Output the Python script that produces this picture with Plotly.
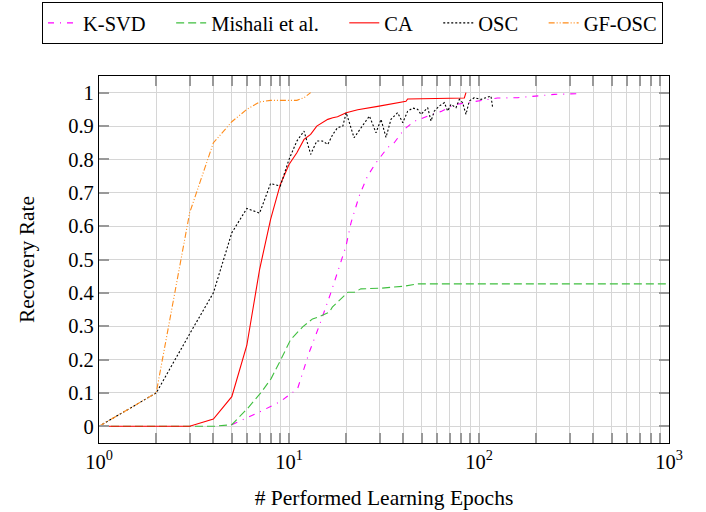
import plotly.graph_objects as go

# ---- data ----
ksvd_x = [5, 6.84, 9.04, 10, 11.1, 12.8, 14.4, 16.6, 18.4, 19.95, 21.2, 23.4, 25.9, 28.7, 33, 35.8,
          40.4, 45.6, 53.7, 63.2, 74.1, 102.5, 125, 160, 200, 250, 336]
ksvd_y = [0.005, 0.04, 0.075, 0.093, 0.113, 0.223, 0.30, 0.40, 0.48, 0.54, 0.61, 0.69, 0.75, 0.79, 0.835, 0.85,
          0.89, 0.914, 0.93, 0.944, 0.964, 0.975, 0.984, 0.985, 0.99, 0.995, 0.997]

mish_x = [1, 2, 3, 4, 5, 6.06, 7.1, 8.05, 9.06, 10.2, 11.8, 13.3, 14.2, 16.3, 16.9, 20.4, 22.1, 23.9,
          30.5, 40.4, 47.6, 100, 1000]
mish_y = [0, 0, 0, 0, 0.005, 0.054, 0.1, 0.143, 0.2, 0.26, 0.298, 0.322, 0.327, 0.342, 0.357, 0.402, 0.402, 0.412,
          0.414, 0.42, 0.427, 0.427, 0.427]

ca_x = [1, 2, 3, 4, 5, 6, 7, 8, 9, 10, 11, 12, 13, 14, 15, 16, 17, 18, 20, 23, 29.3, 36.6, 41.3, 42.1, 83.7, 85.4]
ca_y = [0, 0, 0, 0.022, 0.089, 0.243, 0.47, 0.62, 0.725, 0.785, 0.82, 0.86, 0.875, 0.9, 0.91, 0.92, 0.925, 0.928,
        0.94, 0.949, 0.959, 0.969, 0.974, 0.981, 0.984, 1.0]

osc_x = [1, 2, 3, 4, 5, 6, 7, 8, 9, 10, 11, 12, 13, 14, 15, 16, 17, 18, 19.2, 20, 22, 24.4, 26.5, 28.7, 30.5,
         32.4, 34.4, 37.3, 39.7, 42.1, 44.8, 47.6, 49.5, 53.7, 55.9, 58.2, 61.8, 65.7, 68.4, 71.2, 75.7, 78.8,
         82, 85.4, 88.9, 94.4, 102.5, 108.9, 115.6, 118]
osc_y = [0, 0.1, 0.277, 0.40, 0.58, 0.653, 0.639, 0.728, 0.72, 0.80, 0.855, 0.885, 0.815, 0.855, 0.855, 0.845,
         0.875, 0.895, 0.9, 0.94, 0.865, 0.90, 0.93, 0.88, 0.92, 0.866, 0.92, 0.94, 0.91, 0.944, 0.954, 0.95,
         0.935, 0.955, 0.915, 0.945, 0.96, 0.97, 0.945, 0.965, 0.955, 0.98, 0.97, 0.935, 0.975, 0.985, 0.98,
         0.985, 0.99, 0.955]

gf_x = [1, 2, 3, 4, 5, 6, 7, 8, 9, 10, 11, 12, 13]
gf_y = [0, 0.1, 0.64, 0.85, 0.913, 0.95, 0.972, 0.977, 0.977, 0.977, 0.977, 0.985, 1.0]

series_names = ["K-SVD", "Mishali et al.", "CA", "OSC", "GF-OSC"]

x_tick_vals = [1, 10, 100, 1000]
x_tick_text = ["10<sup>0</sup>", "10<sup>1</sup>", "10<sup>2</sup>", "10<sup>3</sup>"]
x_minor_vals = [m * 10 ** k for k in range(3) for m in range(2, 10)]
y_tick_vals = [0, 0.1, 0.2, 0.3, 0.4, 0.5, 0.6, 0.7, 0.8, 0.9, 1]
y_tick_text = ["0", "0.1", "0.2", "0.3", "0.4", "0.5", "0.6", "0.7", "0.8", "0.9", "1"]

FONT = "Liberation Serif"
PAD = "\u00a0" * 4


def legend_name(i):
    return series_names[i] + (PAD if i < len(series_names) - 1 else "")


fig = go.Figure()
fig.add_trace(go.Scatter(x=ksvd_x, y=ksvd_y, mode="lines", name=legend_name(0),
                         line=dict(color="#ff00ff", width=1.1, dash="6px,6px,1px,6px")))
fig.add_trace(go.Scatter(x=mish_x, y=mish_y, mode="lines", name=legend_name(1),
                         line=dict(color="#3fbf3f", width=1.1, dash="8px,4px")))
fig.add_trace(go.Scatter(x=ca_x, y=ca_y, mode="lines", name=legend_name(2),
                         line=dict(color="#ff0000", width=1.1)))
fig.add_trace(go.Scatter(x=osc_x, y=osc_y, mode="lines", name=legend_name(3),
                         line=dict(color="#000000", width=1.1, dash="2px,2px")))
fig.add_trace(go.Scatter(x=gf_x, y=gf_y, mode="lines", name=legend_name(4),
                         line=dict(color="#ff8c1a", width=1.1, dash="6px,2px,1px,2px,1px,2px")))

fig.update_layout(
    width=706, height=512,
    margin=dict(l=99, r=37, t=76, b=69, autoexpand=False),
    paper_bgcolor="white", plot_bgcolor="white",
    font=dict(family=FONT, size=20.5, color="black"),
    legend=dict(orientation="h", x=-0.1, xanchor="left", y=1.2016, yanchor="top",
                bordercolor="black", borderwidth=1, font=dict(family=FONT, size=20.5),
                itemwidth=30, tracegroupgap=0),
    showlegend=True,
)
fig.update_xaxes(
    type="log", range=[0, 3], automargin=False,
    tickmode="array", tickvals=x_tick_vals, ticktext=x_tick_text,
    ticks="inside", ticklen=10, tickwidth=1.5, tickcolor="#999999",
    showgrid=True, gridcolor="#d6d6d6", gridwidth=1,
    minor=dict(tickmode="array", tickvals=x_minor_vals, ticks="inside", ticklen=10, tickwidth=1.5,
               tickcolor="#999999", showgrid=True, gridcolor="#d6d6d6", gridwidth=1),
    showline=True, linecolor="black", linewidth=1.3, mirror="ticks",
    zeroline=False,
    title=dict(text="# Performed Learning Epochs", font=dict(family=FONT, size=21.5), standoff=18),
    tickfont=dict(family=FONT, size=20.5),
)
fig.update_yaxes(
    range=[-0.05, 1.05], automargin=False,
    tickmode="array", tickvals=y_tick_vals, ticktext=y_tick_text,
    ticks="inside", ticklen=10, tickwidth=1.5, tickcolor="#999999",
    showgrid=True, gridcolor="#d6d6d6", gridwidth=1,
    showline=True, linecolor="black", linewidth=1.3, mirror="ticks",
    zeroline=False,
    title=dict(text="Recovery Rate", font=dict(family=FONT, size=21.5), standoff=27),
    tickfont=dict(family=FONT, size=20.5),
)

fig.write_html("out.html", config={"displayModeBar": False},
               post_script="document.body.style.margin='0px';")
